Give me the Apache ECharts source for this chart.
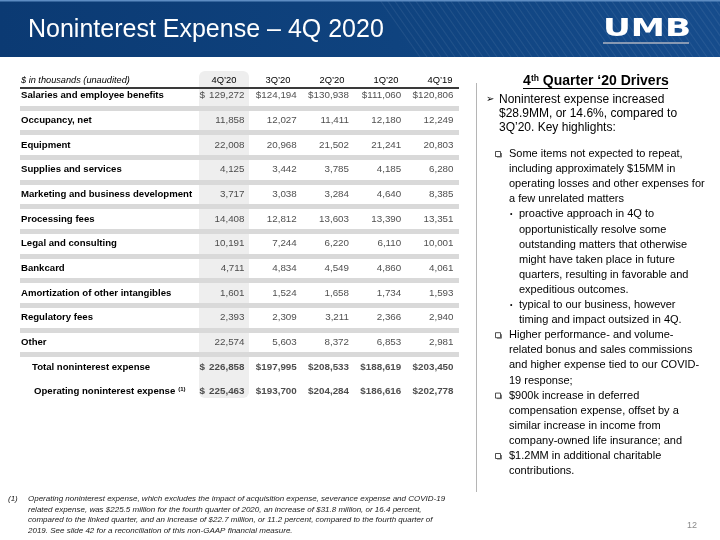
<!DOCTYPE html>
<html><head><meta charset="utf-8">
<script src="https://cdn.jsdelivr.net/npm/echarts@6/dist/echarts.min.js"></script>
<style>html,body{margin:0;padding:0;background:#fff}#c{width:720px;height:540px}</style>
</head><body><div id="c"></div>
<script>
// ---------- DATA ----------
const rowLabels = [
  'Salaries and employee benefits', 'Occupancy, net', 'Equipment', 'Supplies and services',
  'Marketing and business development', 'Processing fees', 'Legal and consulting', 'Bankcard',
  'Amortization of other intangibles', 'Regulatory fees', 'Other',
  'Total noninterest expense', 'Operating noninterest expense'
];
const columns = ['4Q\u201920', '3Q\u201920', '2Q\u201920', '1Q\u201920', '4Q\u201919'];
const q4_20 = [129272, 11858, 22008, 4125, 3717, 14408, 10191, 4711, 1601, 2393, 22574, 226858, 225463];
const q3_20 = [124194, 12027, 20968, 3442, 3038, 12812, 7244, 4834, 1524, 2309, 5603, 197995, 193700];
const q2_20 = [130938, 11411, 21502, 3785, 3284, 13603, 6220, 4549, 1658, 3211, 8372, 208533, 204284];
const q1_20 = [111060, 12180, 21241, 4185, 4640, 13390, 6110, 4860, 1734, 2366, 6853, 188619, 186616];
const q4_19 = [120806, 12249, 20803, 6280, 8385, 13351, 10001, 4061, 1593, 2940, 2981, 203450, 202778];
const dollarRows = [0, 11, 12];
const totalRows = [11, 12];

const slideTitle = 'Noninterest Expense \u2013 4Q 2020';
const unitsNote = '$ in thousands (unaudited)';
const driversTitle = ['4', 'th', ' Quarter \u201820 Drivers'];
const introLines = ['Noninterest expense increased', '$28.9MM, or 14.6%, compared to', '3Q\u201920. Key highlights:'];
const bulletLines = [
  ['box', 'Some items not expected to repeat,'],
  ['c', 'including approximately $15MM in'],
  ['c', 'operating losses and other expenses for'],
  ['c', 'a few unrelated matters'],
  ['dot', 'proactive approach in 4Q to'],
  ['sc', 'opportunistically resolve some'],
  ['sc', 'outstanding matters that otherwise'],
  ['sc', 'might have taken place in future'],
  ['sc', 'quarters, resulting in favorable and'],
  ['sc', 'expeditious outcomes.'],
  ['dot', 'typical to our business, however'],
  ['sc', 'timing and impact outsized in 4Q.'],
  ['box', 'Higher performance- and volume-'],
  ['c', 'related bonus and sales commissions'],
  ['c', 'and higher expense tied to our COVID-'],
  ['c', '19 response;'],
  ['box', '$900k increase in deferred'],
  ['c', 'compensation expense, offset by a'],
  ['c', 'similar increase in income from'],
  ['c', 'company-owned life insurance; and'],
  ['box', '$1.2MM in additional charitable'],
  ['c', 'contributions.']
];
const footnoteLines = [
  'Operating noninterest expense, which excludes the impact of acquisition expense, severance expense and COVID-19',
  'related expense, was $225.5 million for the fourth quarter of 2020, an increase of $31.8 million, or 16.4 percent,',
  'compared to the linked quarter, and an increase of $22.7 million, or 11.2 percent, compared to the fourth quarter of',
  '2019. See slide 42 for a reconciliation of this non-GAAP financial measure.'
];
const pageNumber = '12';

// ---------- BUILD ----------
const FF = "'Liberation Sans', Arial, Helvetica, sans-serif";
const valueCols = [q4_20, q3_20, q2_20, q1_20, q4_19];
const fmt = v => v.toLocaleString('en-US');
const cells = [];
valueCols.forEach((col, c) => col.forEach((v, r) => {
  const hasDollar = dollarRows.includes(r);
  const fw = totalRows.includes(r) ? 'bold' : 'normal';
  const item = { value: [c, r], label: { fontWeight: fw } };
  if (hasDollar && c === 0) {
    item.label.formatter = '{cur|$}{num|' + fmt(v) + '}';
    item.label.width = 45;
    item.label.rich = {
      cur: { align: 'left', fontWeight: fw, fontSize: 9.8, fontFamily: FF, color: '#222' },
      num: { align: 'right', fontWeight: fw, fontSize: 9.8, fontFamily: FF, color: '#222' }
    };
  } else {
    item.label.formatter = (hasDollar ? '$' : '') + fmt(v);
  }
  cells.push(item);
}));

function txt(text, x, y, o) {
  return Object.assign({ type: 'text', silent: true, z: 10, style: Object.assign({
    text: text, x: x, y: y, fill: '#000', fontFamily: FF, fontSize: 11,
    align: 'left', textAlign: 'left', verticalAlign: 'middle', textVerticalAlign: 'middle'
  }, o || {}) });
}

const graphics = [];
// banner
graphics.push({ type: 'rect', silent: true, z: -5, shape: { x: 0, y: 0, width: 720, height: 57 },
  style: { fill: { type: 'linear', x: 0, y: 0, x2: 1, y2: 0,
    colorStops: [{ offset: 0, color: '#0b3a73' }, { offset: 0.55, color: '#0f437f' }, { offset: 1, color: '#164c8c' }] } } });
for (let x = 380; x < 740; x += 7) {
  graphics.push({ type: 'line', silent: true, z: -4, shape: { x1: x, y1: 0, x2: x + 40, y2: 57 },
    style: { stroke: 'rgba(255,255,255,0.07)', lineWidth: 1.2 } });
}
graphics.push({ type: 'rect', silent: true, z: -3, shape: { x: 0, y: 0, width: 720, height: 1.5 }, style: { fill: '#5d8cc2' } });
graphics.push(txt(slideTitle, 28, 30, { fill: '#ffffff', fontSize: 25 }));
graphics.push({ type: 'text', silent: true, z: 10, x: 603, y: 29.5, scaleX: 1.4,
  style: { text: 'UMB', x: 0, y: 0, fill: '#ffffff', fontFamily: "'DejaVu Sans', sans-serif", fontWeight: 'bold', fontSize: 24.5,
    align: 'left', textAlign: 'left', verticalAlign: 'middle', textVerticalAlign: 'middle' } });
graphics.push({ type: 'rect', silent: true, z: 10, shape: { x: 603, y: 42, width: 86, height: 2 }, style: { fill: '#8799b3' } });

// table decorations
graphics.push({ type: 'rect', silent: true, z: -10, shape: { x: 199, y: 71, width: 50, height: 327, r: 6 }, style: { fill: '#eeeeee' } });
graphics.push({ type: 'line', silent: true, z: 5, shape: { x1: 20, y1: 88, x2: 459, y2: 88 }, style: { stroke: '#3a3a3a', lineWidth: 2 } });
graphics.push(txt(unitsNote, 21, 80.7, { fontSize: 9.2, fontStyle: 'italic' }));
graphics.push({ type: 'line', silent: true, z: 5, shape: { x1: 476.5, y1: 83, x2: 476.5, y2: 492 }, style: { stroke: '#b5b5b5', lineWidth: 1 } });

// right panel
graphics.push(txt('{a|' + driversTitle[0] + '}{s|' + driversTitle[1] + '}{a|' + driversTitle[2] + '}', 596, 81.2, {
  align: 'center', textAlign: 'center',
  rich: { a: { fontFamily: FF, fontWeight: 'bold', fontSize: 14, fill: '#000', color: '#000' },
          s: { fontFamily: FF, fontWeight: 'bold', fontSize: 8.5, fill: '#000', color: '#000', verticalAlign: 'top' } }
}));
graphics.push({ type: 'line', silent: true, z: 10, shape: { x1: 523, y1: 88.5, x2: 668, y2: 88.5 }, style: { stroke: '#000', lineWidth: 1.2 } });
graphics.push(txt('\u27A2', 486, 99.5, { fontSize: 10, fontFamily: "'DejaVu Sans', sans-serif" }));
introLines.forEach((t, i) => graphics.push(txt(t, 499, 99.3 + 14.3 * i, { fontSize: 12 })));
bulletLines.forEach((b, i) => {
  const y = 154 + 15.1 * i;
  const kind = b[0];
  if (kind === 'box') {
    graphics.push({ type: 'rect', silent: true, z: 10, shape: { x: 495.5, y: y - 2.5, width: 5, height: 5 }, style: { fill: '#fff', stroke: '#222', lineWidth: 0.8 } });
    graphics.push({ type: 'line', silent: true, z: 10, shape: { x1: 497, y1: y + 3, x2: 501.5, y2: y + 3 }, style: { stroke: '#555', lineWidth: 0.8 } });
    graphics.push({ type: 'line', silent: true, z: 10, shape: { x1: 501.5, y1: y - 1, x2: 501.5, y2: y + 3 }, style: { stroke: '#555', lineWidth: 0.8 } });
  }
  if (kind === 'dot') graphics.push(txt('\u2022', 510, y, { fontSize: 7 }));
  const x = (kind === 'box' || kind === 'c') ? 509 : 519;
  graphics.push(txt(b[1], x, y, { fontSize: 11 }));
});

// footnote
graphics.push(txt('(1)', 8, 499, { fontSize: 8, fontStyle: 'italic', fill: '#222' }));
footnoteLines.forEach((t, i) => graphics.push(txt(t, 28, 499 + 10.6 * i, { fontSize: 8, fontStyle: 'italic', fill: '#222' })));
graphics.push(txt(pageNumber, 697, 526, { fontSize: 9, fill: '#8a8a8a', align: 'right', textAlign: 'right' }));

const chart = echarts.init(document.getElementById('c'), null, { renderer: 'canvas' });
chart.setOption({
  animation: false,
  backgroundColor: '#ffffff',
  grid: [
    { left: 20, right: 261, top: 83.4, bottom: 136 },
    { left: 197, right: 253, top: 86, height: 1 }
  ],
  xAxis: [
    { type: 'value', gridIndex: 0, min: -4.306, max: 4.096, show: false },
    { type: 'category', gridIndex: 1, position: 'top', data: columns,
      axisLine: { show: false }, axisTick: { show: false }, splitLine: { show: false },
      axisLabel: { margin: 1, fontFamily: FF, fontSize: 9.4, color: '#000' } }
  ],
  yAxis: [
    { type: 'category', gridIndex: 0, data: rowLabels, inverse: true,
      axisLine: { show: false }, axisTick: { show: false },
      axisLabel: { inside: true, margin: 1, align: 'left', interval: 0, fontFamily: FF, fontSize: 9.6, fontWeight: 'bold', color: '#000',
        formatter: (v, i) => i === 11 ? '{t|' + v + '}' : (i === 12 ? '{o|' + v + '}{s|(1)}' : v),
        rich: {
          t: { padding: [0, 0, 0, 11], fontFamily: FF, fontSize: 9.6, fontWeight: 'bold', color: '#000' },
          o: { padding: [0, 0, 0, 13], fontFamily: FF, fontSize: 9.6, fontWeight: 'bold', color: '#000' },
          s: { padding: [0, 0, 0, 3], fontFamily: FF, fontSize: 6, fontWeight: 'bold', color: '#000', verticalAlign: 'top' }
        } },
      splitLine: { show: true, interval: (i) => i >= 1 && i <= 11, showMaxLine: false,
        lineStyle: { color: '#d9d9d9', width: 5 } } },
    { type: 'value', gridIndex: 1, show: false }
  ],
  series: [{
    type: 'scatter', xAxisIndex: 0, yAxisIndex: 0, data: cells, symbolSize: 1, silent: true,
    itemStyle: { color: 'rgba(0,0,0,0)' },
    label: { show: true, position: 'left', distance: 0, fontFamily: FF, fontSize: 9.8, color: '#222' }
  }],
  graphic: { elements: graphics }
});
</script>
</body></html>
